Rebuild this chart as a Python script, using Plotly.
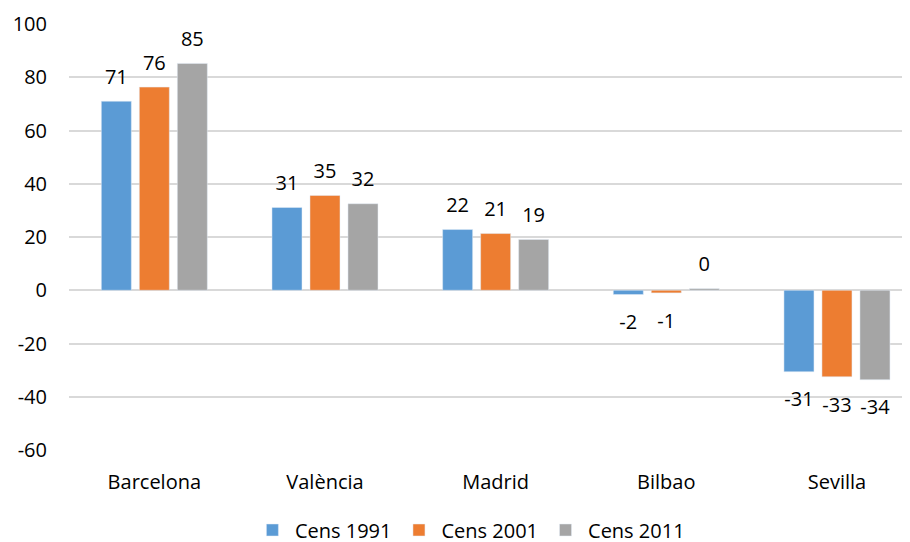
import plotly.graph_objects as go

categories = ["Barcelona", "València", "Madrid", "Bilbao", "Sevilla"]
series_names = ["Cens 1991", "Cens 2001", "Cens 2011"]
cens_1991 = [71.0, 31.1, 22.8, -1.6, -30.6]
cens_2001 = [76.3, 35.6, 21.3, -1.0, -32.5]
cens_2011 = [85.2, 32.5, 19.1, 0.6, -33.6]
labels_1991 = ["71", "31", "22", "-2", "-31"]
labels_2001 = ["76", "35", "21", "-1", "-33"]
labels_2011 = ["85", "32", "19", "0", "-34"]
colors = ["#5B9BD5", "#ED7D31", "#A5A5A5"]
y_ticks = [-60, -40, -20, 0, 20, 40, 60, 80, 100]
y_tick_text = ["-60", "-40", "-20", "0", "20", "40", "60", "80", "100"]

FONT = "Open Sans"
FS = 20
fig = go.Figure()
for i, (name, vals, labs, col) in enumerate(zip(series_names,
                                 [cens_1991, cens_2001, cens_2011],
                                 [labels_1991, labels_2001, labels_2011],
                                 colors)):
    fig.add_trace(go.Bar(
        x=categories, y=vals, name=name, marker_color=col,
        offsetgroup=str(i),
    ))
    fig.add_trace(go.Scatter(
        x=categories, y=vals, mode="markers+text", text=labs,
        textposition=["top center" if v >= 0 else "bottom center" for v in vals],
        textfont=dict(family=FONT, size=FS, color="#000000"),
        marker=dict(size=[18 if v >= 0 else 30 for v in vals], opacity=0),
        offsetgroup=str(i),
        showlegend=False, hoverinfo="skip", cliponaxis=False,
    ))

fig.update_layout(
    width=902, height=542,
    margin=dict(l=61, r=0, t=16, b=100),
    paper_bgcolor="white", plot_bgcolor="white",
    barmode="group", bargap=0.332, bargroupgap=0.21,
    scattermode="group", scattergap=0.332,
    font=dict(family=FONT, size=FS, color="#000000"),
    showlegend=True,
    legend=dict(orientation="h", x=0.4767, xanchor="center", y=-0.1878, yanchor="middle",
                font=dict(family=FONT, size=20, color="#000000"),
                itemwidth=35, traceorder="normal"),
    xaxis=dict(range=[-0.5, 4.428], showgrid=False, showline=False, ticks="",
               automargin=False, ticklabelstandoff=18,
               tickfont=dict(family=FONT, size=FS, color="#000000")),
    yaxis=dict(range=[-60, 100], tickvals=y_ticks, ticktext=y_tick_text,
               showgrid=True, gridcolor="#D9D9D9", automargin=False,
               gridwidth=1.5, zeroline=True, zerolinecolor="#D9D9D9", zerolinewidth=1.5,
               showline=False, ticks="", ticklabelstandoff=21,
               tickfont=dict(family=FONT, size=FS, color="#000000")),
)
fig.write_html("out.html")
